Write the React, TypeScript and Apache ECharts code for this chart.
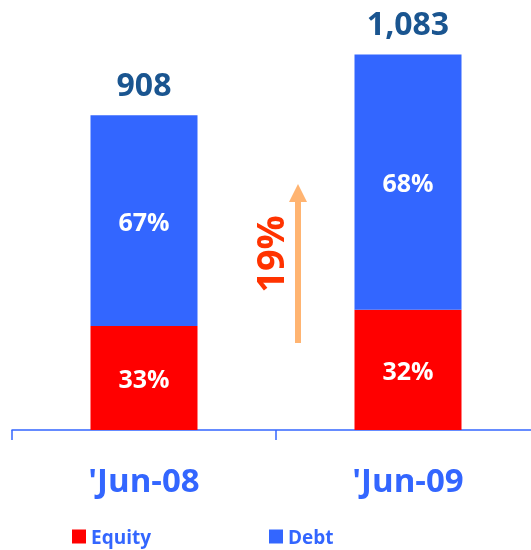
import React, { useEffect, useRef } from "react";
import * as echarts from "echarts";

const categories = ["'Jun-08", "'Jun-09"];
const totals = [908, 1083];
const equityPct = [33, 32];
const debtPct = [67, 68];
const equityValues = [300, 347];
const debtValues = [608, 736];
const growthLabel = "19%";

const FONT = "'Open Sans', 'DejaVu Sans', sans-serif";

export default function App() {
  const ref = useRef<HTMLDivElement>(null);
  useEffect(() => {
    if (!ref.current) return;
    const chart = echarts.init(ref.current, null, { renderer: "svg" });
    const legendText = { color: "#3366FF", fontSize: 19, fontWeight: "bold", fontFamily: FONT };
    chart.setOption({
      animation: false,
      textStyle: { fontFamily: FONT },
      grid: { left: 12, right: 5, top: 14, bottom: 120, containLabel: false },
      legend: [
        {
          data: ["Equity"],
          left: 67,
          top: 522,
          icon: "rect",
          itemWidth: 14,
          itemHeight: 14,
          itemGap: 5,
          textStyle: legendText,
        },
        {
          data: ["Debt"],
          left: 264,
          top: 522,
          icon: "rect",
          itemWidth: 14,
          itemHeight: 14,
          itemGap: 5,
          textStyle: legendText,
        },
      ],
      xAxis: {
        type: "category",
        data: categories,
        boundaryGap: true,
        axisLine: { lineStyle: { color: "#3366FF", width: 1.5 } },
        axisTick: { show: true, length: 10, lineStyle: { color: "#3366FF", width: 1.5 } },
        axisLabel: {
          color: "#3366FF",
          fontSize: 33,
          fontWeight: "bold",
          fontFamily: FONT,
          margin: 33,
        },
      },
      yAxis: { type: "value", min: 0, max: 1200, show: false, splitLine: { show: false } },
      series: [
        {
          name: "Equity",
          type: "bar",
          stack: "total",
          barWidth: 107,
          data: equityValues,
          itemStyle: { color: "#FF0000" },
          label: {
            show: true,
            position: "inside",
            color: "#FFFFFF",
            fontSize: 25,
            fontWeight: "bold",
            fontFamily: FONT,
            formatter: (p: any) => equityPct[p.dataIndex] + "%",
          },
        },
        {
          name: "Debt",
          type: "bar",
          stack: "total",
          barWidth: 107,
          data: debtValues,
          itemStyle: { color: "#3366FF" },
          label: {
            show: true,
            position: "inside",
            color: "#FFFFFF",
            fontSize: 25,
            fontWeight: "bold",
            fontFamily: FONT,
            formatter: (p: any) => debtPct[p.dataIndex] + "%",
          },
        },
        {
          name: "TotalLabel",
          type: "bar",
          stack: "total",
          barWidth: 107,
          data: totals.map(() => 0),
          itemStyle: { color: "transparent" },
          label: {
            show: true,
            position: "top",
            distance: 16,
            color: "#1A5590",
            fontSize: 32,
            fontWeight: "bold",
            fontFamily: FONT,
            formatter: (p: any) => totals[p.dataIndex].toLocaleString("en-US"),
          },
        },
      ],
      graphic: [
        {
          type: "rect",
          shape: { x: 295, y: 200, width: 6, height: 143 },
          style: { fill: "#FFB471" },
        },
        {
          type: "polygon",
          shape: { points: [[289, 202], [298, 184], [307, 202]] },
          style: { fill: "#FFB471" },
        },
        {
          type: "text",
          x: 269,
          y: 254,
          rotation: Math.PI / 2,
          style: {
            text: growthLabel,
            fill: "#FF3300",
            fontSize: 38,
            fontWeight: "bold",
            fontFamily: FONT,
            align: "center",
            verticalAlign: "middle",
          },
        },
      ],
    });
    return () => chart.dispose();
  }, []);
  return (
    <div style={{ position: "fixed", left: 0, top: 0, width: 531, height: 550, overflow: "hidden" }}>
      <div ref={ref} style={{ width: 545, height: 550 }} />
    </div>
  );
}
